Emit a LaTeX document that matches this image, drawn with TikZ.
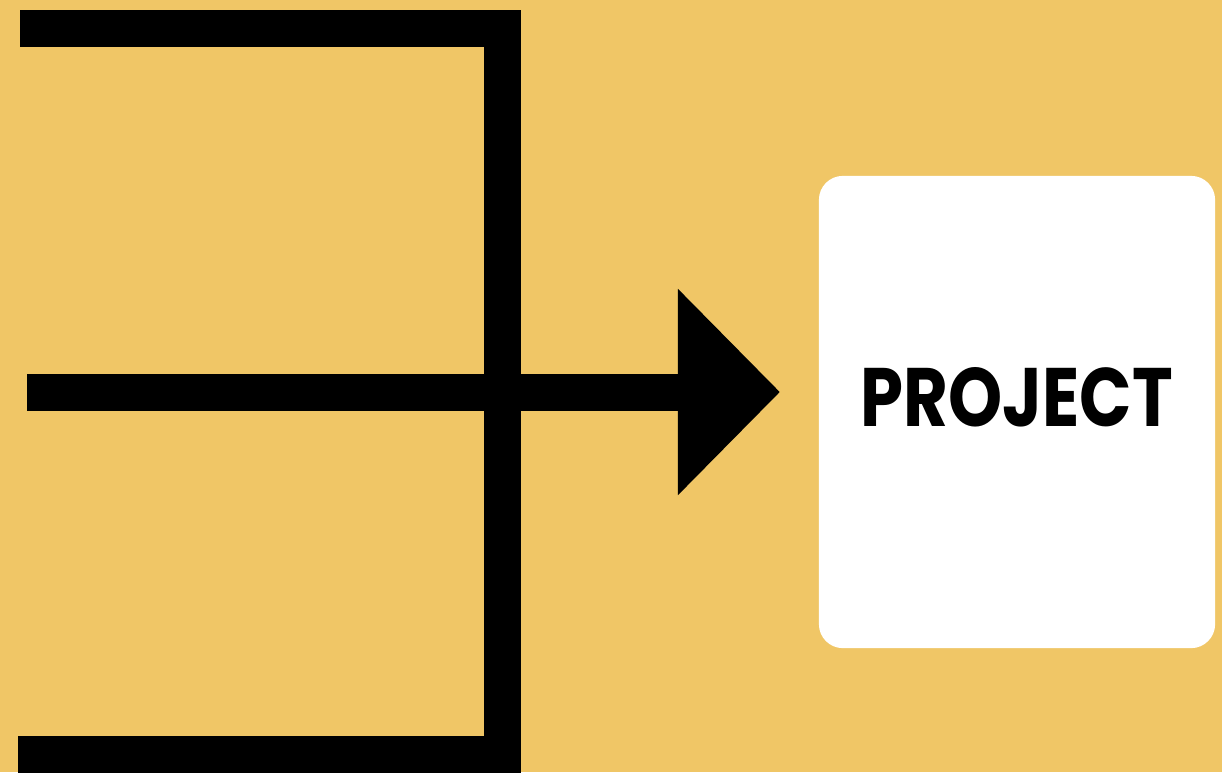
\documentclass[tikz,border=0pt]{standalone}
\usepackage{fontspec,graphicx}
\newfontfamily\projfont{Poppins}
\usetikzlibrary{arrows.meta,positioning}
\definecolor{mustard}{RGB}{240,198,102}

\begin{document}
\begin{tikzpicture}[x=0.01cm,y=-0.01cm,
  bar/.style={line width=0.37cm,line join=miter,line cap=butt},
  card/.style={fill=white,rounded corners=0.24cm,minimum width=3.96cm,minimum height=4.72cm,inner sep=0pt}]
\fill[mustard] (0,0) rectangle (1222,772);
\useasboundingbox (0,0) rectangle (1222,772);
\coordinate (b0) at (20,28.5);
\coordinate (b1) at (502,28.5);
\coordinate (b2) at (502,754.5);
\coordinate (b3) at (18,754.5);
\draw[bar] (b0)--(b1)--(b2)--(b3);
\coordinate (src) at (27,392);
\coordinate (tip) at (780,392);
\draw[bar,-{Triangle[length=1.02cm,width=2.0cm]}] (src)--(tip);
\node[card] (proj) at (1017,412) {};
\node[inner sep=0pt] (projlbl) at (1017,397.5) {\resizebox{3.12cm}{0.59cm}{\projfont\bfseries PROJECT}};
\end{tikzpicture}
\end{document}
